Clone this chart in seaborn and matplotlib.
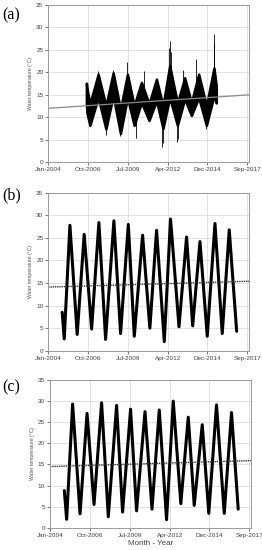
import numpy as np
import pandas as pd
import matplotlib
matplotlib.use("Agg")
import matplotlib.pyplot as plt
import seaborn as sns

# ---------------- data (decimal years, deg C) ----------------
tick_pos = [2004.0, 2006.75, 2009.5, 2012.25, 2014.92, 2017.67]
tick_labels = ["Jan-2004", "Oct-2006", "Jul-2009", "Apr-2012", "Dec-2014", "Sep-2017"]
y_ticks = [0, 5, 10, 15, 20, 25, 30, 35]

# panel (a): band envelope
a_dates = [2006.62, 2006.66, 2006.86, 2007.43, 2007.96, 2008.46, 2008.96, 2009.44, 2009.90,
           2010.40, 2010.92, 2011.43, 2011.88, 2012.34, 2012.87, 2013.37, 2013.83, 2014.33,
           2014.86, 2015.38, 2015.54]
a_hi = [17.6, 16.5, 13.0, 19.6, 12.6, 19.9, 11.8, 19.6, 12.6, 17.8, 13.0, 18.5, 12.6, 21.5,
        13.2, 18.8, 13.3, 19.6, 12.6, 21.0, 17.0]
a_lo = [13.1, 11.0, 8.2, 14.4, 7.4, 14.8, 6.4, 14.4, 8.2, 13.3, 9.3, 13.7, 7.5, 14.4,
        8.2, 14.1, 10.4, 14.4, 8.2, 14.8, 13.2]
a_spike_dates = [2007.45, 2008.45, 2009.44, 2010.55, 2012.28, 2012.34, 2012.40, 2013.25, 2014.15, 2015.36, 2015.40]
a_spike_vals = [20.3, 20.6, 22.2, 20.4, 25.5, 27.0, 24.5, 20.6, 23.0, 26.5, 28.5]
a_dip_dates = [2007.97, 2008.95, 2010.0, 2011.84, 2011.90, 2012.84, 2012.90, 2014.85]
a_dip_vals = [6.0, 5.8, 5.5, 3.5, 4.2, 4.4, 5.2, 7.3]
a_trend = [12.0, 15.0]

# panel (b)
b_dates = [2004.96, 2005.10, 2005.49, 2005.99, 2006.47, 2006.98, 2007.48, 2007.94, 2008.51,
           2008.97, 2009.50, 2009.91, 2010.48, 2010.98, 2011.44, 2011.97, 2012.40, 2012.98,
           2013.50, 2013.92, 2014.42, 2014.92, 2015.45, 2015.95, 2016.43, 2016.94]
b_vals = [8.5, 2.6, 27.8, 3.6, 25.8, 4.8, 28.4, 2.5, 28.8, 3.8, 28.0, 3.2, 25.6, 5.0, 26.7,
          2.0, 29.2, 5.3, 25.2, 5.5, 24.2, 3.2, 28.2, 3.8, 26.8, 4.3]
b_trend = [14.1, 15.4]

# panel (c)
c_dates = [2004.98, 2005.14, 2005.55, 2006.06, 2006.54, 2007.02, 2007.54, 2008.00, 2008.57,
           2008.98, 2009.53, 2009.94, 2010.52, 2011.00, 2011.50, 2012.00, 2012.46, 2012.98,
           2013.49, 2013.90, 2014.45, 2014.90, 2015.43, 2015.96, 2016.46, 2016.92]
c_vals = [8.8, 2.0, 29.3, 3.3, 27.1, 5.5, 29.6, 2.6, 29.0, 3.7, 28.1, 4.0, 27.5, 4.4, 27.9,
          1.9, 30.0, 5.7, 26.2, 5.3, 24.4, 3.4, 29.1, 3.4, 27.3, 4.4]
c_trend = [14.5, 15.9]

x_range = [2004.0, 2017.78]

# ---------------- style ----------------
sns.set_theme(style="white")
plt.rcParams["font.family"] = ["Liberation Sans", "DejaVu Sans"]

fig = plt.figure(figsize=(2.62, 5.5), dpi=100)
positions = [
    [0.184, 0.705, 0.766, 0.286],
    [0.184, 0.3624, 0.766, 0.287],
    [0.191, 0.0405, 0.766, 0.2685],
]
labels = ["(a)", "(b)", "(c)"]
label_y = [0.972, 0.645, 0.295]

axes = []
for pos in positions:
    ax = fig.add_axes(pos)
    axes.append(ax)

def style_axis(ax):
    ax.set_xlim(*x_range)
    ax.set_ylim(0, 35)
    ax.set_xticks(tick_pos)
    ax.set_xticklabels(tick_labels)
    ax.set_yticks(y_ticks)
    ax.grid(True, color="#dddddd", linewidth=0.6)
    ax.set_axisbelow(True)
    for s in ax.spines.values():
        s.set_color("#9a9a9a")
        s.set_linewidth(0.7)
    ax.tick_params(axis="both", labelsize=4.6, colors="#444444", length=2, width=0.5,
                   pad=1.5, direction="out", bottom=True, left=True)
    ax.set_ylabel("Water temperature (°C)", fontsize=3.7, color="#555555", labelpad=2)
    ax.set_xlabel("")

# (a)
ax = axes[0]
sns.lineplot(x=x_range, y=a_trend, ax=ax, color="#8a8a8a", linewidth=0.9, estimator=None)
ax.fill_between(a_dates, a_lo, a_hi, color="black", linewidth=1.8, edgecolor="black")
hi_interp = np.interp(a_spike_dates, a_dates, a_hi)
ax.vlines(a_spike_dates, hi_interp, a_spike_vals, color="black", linewidth=0.6)
lo_interp = np.interp(a_dip_dates, a_dates, a_lo)
ax.vlines(a_dip_dates, a_dip_vals, lo_interp, color="black", linewidth=0.6)
style_axis(ax)

# (b)
ax = axes[1]
sns.lineplot(x=b_dates, y=b_vals, ax=ax, color="black", linewidth=2.2, estimator=None, sort=False)
sns.lineplot(x=x_range, y=b_trend, ax=ax, color="#333333", linewidth=1.0, linestyle=(0, (1, 0.6)),
             estimator=None)
style_axis(ax)

# (c)
ax = axes[2]
sns.lineplot(x=c_dates, y=c_vals, ax=ax, color="black", linewidth=2.2, estimator=None, sort=False)
sns.lineplot(x=x_range, y=c_trend, ax=ax, color="#333333", linewidth=1.0, linestyle=(0, (1, 0.6)),
             estimator=None)
style_axis(ax)
ax.set_xlabel("Month - Year", fontsize=5.8, color="#444444", labelpad=1.5)

for lab, yy in zip(labels, label_y):
    fig.text(0.01, yy, lab, fontsize=11.5, family=["Liberation Serif", "DejaVu Serif"],
             va="center", ha="left", color="black")

fig.savefig("out.png", dpi=100)
